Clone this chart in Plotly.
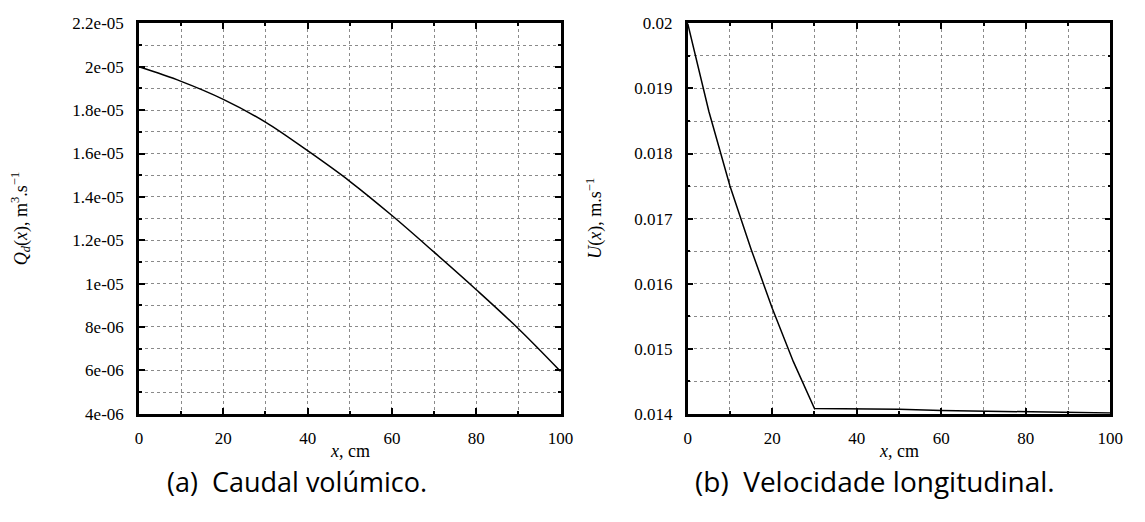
import plotly.graph_objects as go

W, H = 1145, 522

# ---- data ----
x_q = [0, 10, 20, 30, 40, 50, 60, 70, 80, 90, 100]
q_vals = [2.0e-05, 1.933e-05, 1.850e-05, 1.745e-05, 1.613e-05, 1.472e-05,
          1.314e-05, 1.145e-05, 9.72e-06, 7.92e-06, 5.95e-06]

x_u = [0, 5, 10, 15, 20, 25, 30, 40, 50, 60, 70, 80, 90, 100]
u_vals = [0.0200, 0.01865, 0.01750, 0.01653, 0.01562, 0.01480, 0.01408,
          0.014075, 0.01407, 0.01405, 0.01404, 0.01403, 0.01402, 0.01401]

x_ticks = [0, 20, 40, 60, 80, 100]
x_ticklabels = ["0", "20", "40", "60", "80", "100"]
q_ticks = [4e-06, 6e-06, 8e-06, 1e-05, 1.2e-05, 1.4e-05, 1.6e-05, 1.8e-05, 2e-05, 2.2e-05]
q_ticklabels = ["4e-06", "6e-06", "8e-06", "1e-05", "1.2e-05", "1.4e-05",
                "1.6e-05", "1.8e-05", "2e-05", "2.2e-05"]
u_ticks = [0.014, 0.015, 0.016, 0.017, 0.018, 0.019, 0.020]
u_ticklabels = ["0.014", "0.015", "0.016", "0.017", "0.018", "0.019", "0.02"]

captions = ["(a)  Caudal volúmico.", "(b)  Velocidade longitudinal."]

# ---- layout geometry (pixels) ----
L1, R1 = 137, 565
L2, R2 = 694, 1123
TOP, BOT = 15, 420

def px_x(p):
    return p / W

def px_y(p):
    return 1 - p / H

SERIF = "Liberation Serif"
TICKFONT = dict(family=SERIF, size=17, color="black")

fig = go.Figure()
fig.add_trace(go.Scatter(x=x_q, y=q_vals, mode="lines", xaxis="x", yaxis="y",
                         line=dict(color="black", width=1.5, shape="spline"),
                         showlegend=False))
fig.add_trace(go.Scatter(x=x_u, y=u_vals, mode="lines", xaxis="x2", yaxis="y2",
                         line=dict(color="black", width=1.5),
                         showlegend=False))

GRIDC = "#8a8a8a"

def xaxis_cfg(dom, anchor):
    return dict(domain=dom, anchor=anchor, range=[0, 100],
                tickvals=x_ticks, ticktext=x_ticklabels, tickfont=TICKFONT,
                ticks="inside", ticklen=6, tickwidth=2, tickcolor="black",
                showline=True, linecolor="black", linewidth=2.5, mirror="allticks",
                zeroline=False,
                showgrid=True, gridcolor=GRIDC, gridwidth=1, griddash="dot",
                minor=dict(dtick=10, tick0=0, ticks="inside", ticklen=3, tickwidth=1.5,
                           tickcolor="black", showgrid=True, gridcolor=GRIDC,
                           gridwidth=1, griddash="dot"),
                ticklabelstandoff=7)

def yaxis_cfg(dom, anchor, rng, tv, tt, mdt, m0):
    return dict(domain=dom, anchor=anchor, range=rng,
                tickvals=tv, ticktext=tt, tickfont=TICKFONT,
                ticks="inside", ticklen=6, tickwidth=2, tickcolor="black",
                showline=True, linecolor="black", linewidth=2.5, mirror="allticks",
                zeroline=False,
                showgrid=True, gridcolor=GRIDC, gridwidth=1, griddash="dot",
                minor=dict(dtick=mdt, tick0=m0, ticks="inside", ticklen=3, tickwidth=1.5,
                           tickcolor="black", showgrid=True, gridcolor=GRIDC,
                           gridwidth=1, griddash="dot"),
                ticklabelstandoff=9)

ydom = [px_y(BOT), px_y(TOP)]
fig.update_layout(
    width=W, height=H,
    font=dict(family=SERIF, size=17, color="black"),
    margin=dict(l=0, r=0, t=0, b=0, pad=0),
    paper_bgcolor="white", plot_bgcolor="white",
    xaxis=xaxis_cfg([px_x(L1), px_x(R1)], "y"),
    yaxis=yaxis_cfg(ydom, "x", [4e-06, 2.2e-05], q_ticks, q_ticklabels, 1e-06, 4e-06),
    xaxis2=xaxis_cfg([px_x(L2), px_x(R2)], "y2"),
    yaxis2=yaxis_cfg(ydom, "x2", [0.014, 0.020], u_ticks, u_ticklabels, 0.0005, 0.014),
)

ann = []
# x axis titles
for (l, r) in [(L1, R1), (L2, R2)]:
    ann.append(dict(x=px_x((l + r) / 2), y=px_y(459), xref="paper", yref="paper",
                    text="<i>x</i>, cm", showarrow=False,
                    font=dict(family=SERIF, size=18, color="black"),
                    xanchor="center", yanchor="middle"))
# y axis titles
ann.append(dict(x=px_x(17), y=px_y((TOP + BOT) / 2), xref="paper", yref="paper",
                text="<i>Q</i><sub><i>d</i></sub>(<i>x</i>), m<sup>3</sup>.s<sup>−1</sup>",
                textangle=-90, showarrow=False,
                font=dict(family=SERIF, size=18, color="black"),
                xanchor="center", yanchor="middle"))
ann.append(dict(x=px_x(599), y=px_y((TOP + BOT) / 2), xref="paper", yref="paper",
                text="<i>U</i>(<i>x</i>), m.s<sup>−1</sup>",
                textangle=-90, showarrow=False,
                font=dict(family=SERIF, size=18, color="black"),
                xanchor="center", yanchor="middle"))
# captions
for cx, sz, txt in zip([297, 884], [27, 28], captions):
    ann.append(dict(x=px_x(cx), y=px_y(490), xref="paper", yref="paper",
                    text=txt, showarrow=False,
                    font=dict(family="Open Sans", size=sz, color="black"),
                    xanchor="center", yanchor="middle"))
fig.update_layout(annotations=ann)

fig.write_html("out.html")
